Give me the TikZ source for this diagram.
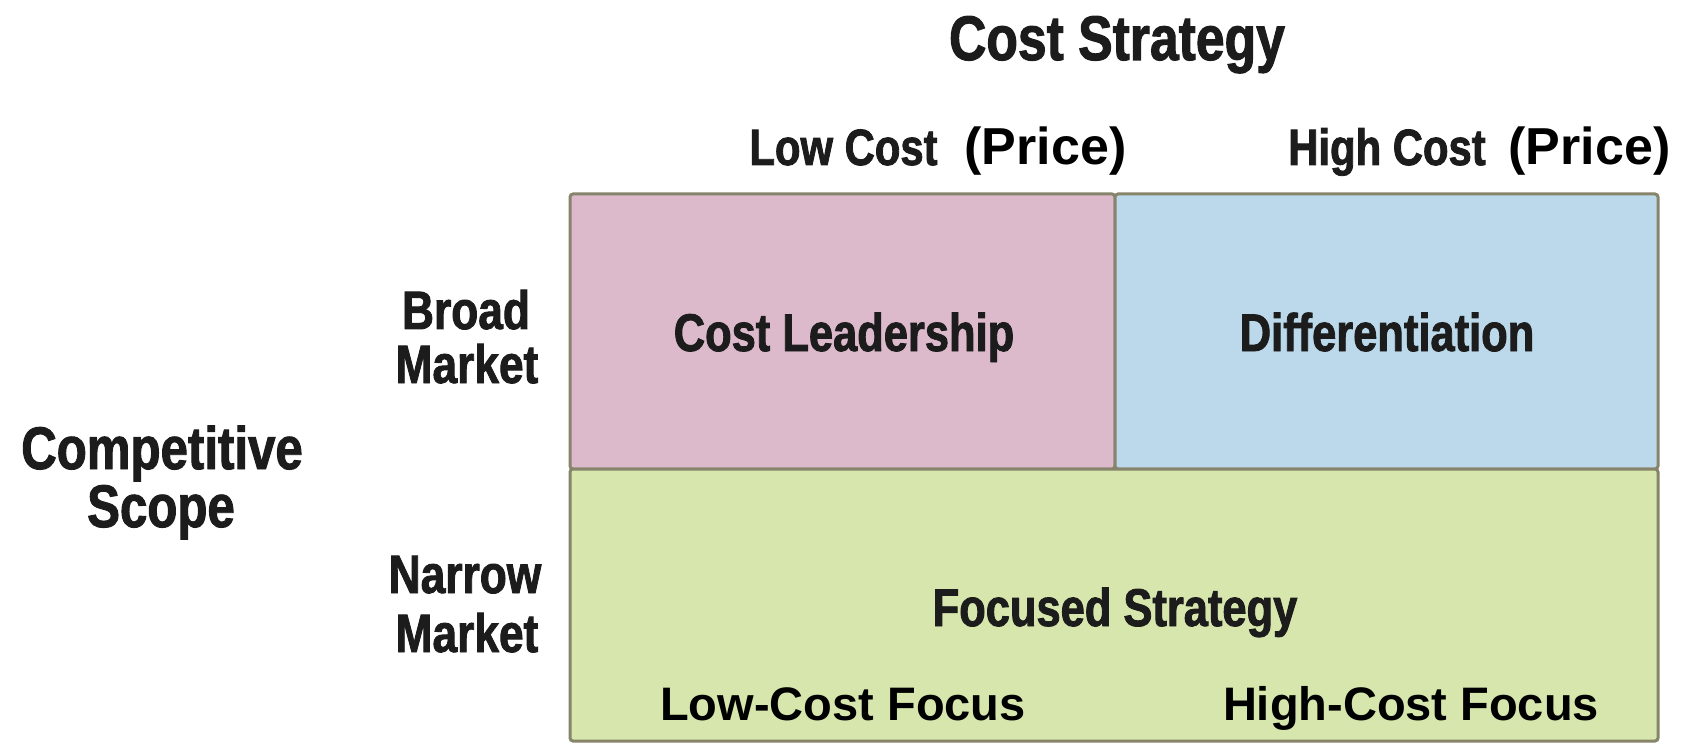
\documentclass[tikz,border=0pt]{standalone}
\usepackage{fontspec}
\setmainfont{Liberation Sans}
\newfontfamily\condfont[FakeStretch=0.82,BoldFeatures={FakeBold=1.6}]{Liberation Sans}
\definecolor{cpink}{HTML}{DCBACB}
\definecolor{cblue}{HTML}{BBD9EB}
\definecolor{cgreen}{HTML}{D6E6AC}
\definecolor{cborder}{HTML}{86846A}
\definecolor{ctext}{HTML}{1C1C1C}
\tikzset{
  cond/.style={font=\condfont\bfseries\fontsize{#1}{#1}\selectfont, text=ctext, inner sep=0pt, anchor=base},
  plain/.style={font=\bfseries\fontsize{#1}{#1}\selectfont, text=black, inner sep=0pt, anchor=base},
  cell/.style={draw=cborder, line width=3pt, rounded corners=3pt}
}
\begin{document}
\begin{tikzpicture}[x=1pt,y=-1pt]
\useasboundingbox (0,0) rectangle (1692,743);
% cells
\draw[cell, fill=cpink] (570,194) rectangle (1115,469);
\draw[cell, fill=cblue] (1115,194) rectangle (1658,469);
\draw[cell, fill=cgreen] (570,469) rectangle (1658,741);
% titles
\node[cond=63] (title) at (1117,60) {Cost Strategy};
\node[cond=51] (lowcost) at (843.5,165) {Low Cost};
\node[plain=52] (price1) at (1045.5,165) {(Price)};
\node[cond=51] (highcost) at (1387,165) {High Cost};
\node[plain=52] (price2) at (1589.5,165) {(Price)};
% left labels
\node[cond=54] (broad) at (466,329) {Broad};
\node[cond=54] (market1) at (467,383) {Market};
\node[cond=60] (competitive) at (162,469) {Competitive};
\node[cond=60] (scope) at (161,527) {Scope};
\node[cond=54] (narrow) at (465,593) {Narrow};
\node[cond=54] (market2) at (467,652) {Market};
% cell labels
\node[cond=53] (costlead) at (844,351) {Cost Leadership};
\node[cond=53] (diff) at (1387,351) {Differentiation};
\node[cond=53] (focused) at (1115,626) {Focused Strategy};
\node[plain=47] (lowfocus) at (843,720) {Low-Cost Focus};
\node[plain=47] (highfocus) at (1411,720) {High-Cost Focus};
\end{tikzpicture}
\end{document}
